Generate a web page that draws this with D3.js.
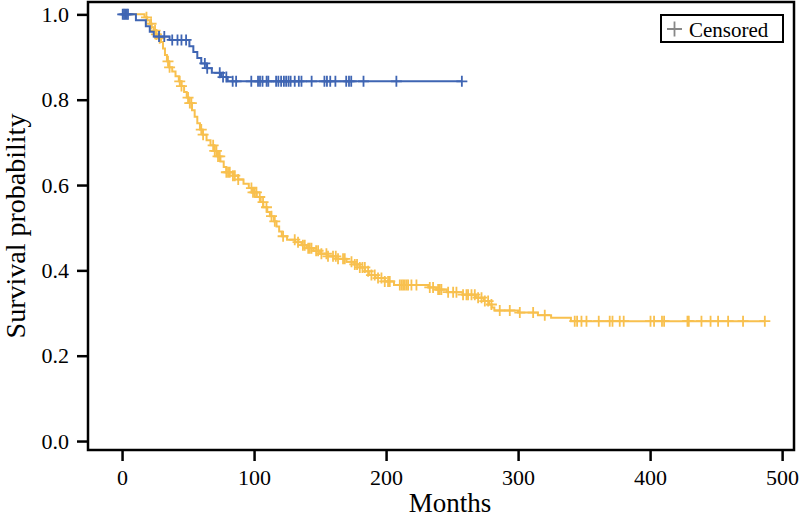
<!DOCTYPE html>
<html><head><meta charset="utf-8">
<script src="https://cdn.jsdelivr.net/npm/d3@7"></script>
<style>body{margin:0;background:#fff}svg{display:block}text{font-family:"Liberation Serif","Times New Roman",serif}</style>
</head><body><svg id="c" width="800" height="518"></svg>
<script>
// ---- data ----
const xTicks = [0, 100, 200, 300, 400, 500];
const yTicks = [0.0, 0.2, 0.4, 0.6, 0.8, 1.0];
const xLabel = "Months";
const yLabel = "Survival probability";
const legendLabel = "Censored";

const blueStepTimes = [0, 10.5, 18, 21, 24, 36, 51, 54, 57, 60, 64, 68, 75, 80];
const blueStepSurv  = [1.0, 0.986, 0.972, 0.959, 0.948, 0.94, 0.925, 0.912, 0.898, 0.885, 0.874, 0.863, 0.853, 0.843];
const blueEnd = 257.4;
const blueCensor = [0.5, 1.5, 2.5, 3.5, 4.5, 28, 32, 38, 42, 45, 48.5, 62.7, 64.5, 74, 76.5, 79,
  83.8, 86.4, 97.9, 103, 104.5, 106.4, 109.5, 110.8, 116.7, 118.4, 120.5, 122.6, 124.3, 126.1, 127.7,
  130.8, 133.9, 135.9, 143.6, 153.3, 155.2, 157.7, 161.6, 169.8, 171.9, 173.6, 182.9, 207.8, 257.4];

const yellowStepTimes = [0, 17, 19, 21, 22.5, 24, 26, 28, 29.5, 31, 32.5, 34, 35.5, 38, 40.5, 43, 45, 47, 49, 50.5,
  53, 55, 57, 59, 61, 64, 67, 70, 72.5, 74.5, 77, 79, 84, 88, 92, 96, 99, 102, 105, 107, 110, 112, 115, 117, 119, 121,
  125, 131, 136, 140, 145, 150, 156, 162, 170, 176, 180, 184, 187, 192, 199, 206, 232, 238, 246, 258, 268, 274, 278,
  280, 282, 300, 315, 325, 340];
const yellowStepSurv = [1.0, 0.993, 0.986, 0.978, 0.97, 0.962, 0.953, 0.944, 0.935, 0.92, 0.905, 0.89, 0.876, 0.866,
  0.855, 0.843, 0.832, 0.818, 0.805, 0.792, 0.775, 0.76, 0.745, 0.73, 0.718, 0.705, 0.693, 0.68, 0.667, 0.655, 0.642,
  0.63, 0.622, 0.613, 0.603, 0.593, 0.583, 0.572, 0.56, 0.548, 0.537, 0.527, 0.515, 0.503, 0.491, 0.48, 0.472, 0.466,
  0.459, 0.452, 0.446, 0.439, 0.433, 0.427, 0.42, 0.414, 0.407, 0.398, 0.389, 0.382, 0.374, 0.366, 0.36, 0.355, 0.349,
  0.343, 0.336, 0.328, 0.32, 0.313, 0.306, 0.301, 0.295, 0.289, 0.281];
const yellowEnd = 486.9;
const yellowCensor = [18.5, 22, 25, 26, 28.5, 34.8, 36, 43.7, 45, 50, 51.3, 52.5, 60, 61.4, 69, 70.2, 71.5, 72.7, 74,
  79, 80.3, 81.6, 84, 85.4, 88, 98, 99.2, 100.5, 101.8, 104.3, 106.8, 109.4, 113.2, 115.7, 122, 130.8, 133.3, 137,
  138.4, 141, 142.2, 143.5, 147, 148.5, 151, 154.8, 156, 159.8, 161.9, 163.6, 167.4, 168.7, 173.8, 176.3, 178, 180.1,
  182.1, 183.9, 186.4, 188.9, 191.4, 193.9, 196.5, 199, 201.5, 202.8, 210.4, 211.7, 212.9, 214.2, 215.5, 216.7, 219.2,
  223, 233.1, 235.6, 239.4, 240.7, 241.9, 247, 250.8, 253.3, 258.3, 260.9, 262.1, 264.7, 267.2, 269.7, 272.3, 274.8,
  277.3, 279.8, 286.1, 293.7, 301.3, 311.4, 320.2, 342.9, 344.7, 348, 351.8, 361.1, 369.4, 371.5, 377, 380, 400.3,
  403, 409, 410.6, 428.3, 429.3, 438.9, 445.8, 451.5, 459.1, 470.4, 486.9];

const BLUE = "#3f65b3", YELLOW = "#f8c04e";
const FONT = '"Liberation Serif", "Times New Roman", serif';

// ---- chart ----
const svg = d3.select("#c");
const L = 88, R = 794, T = 2, B = 450;
const x = d3.scaleLinear().domain([-25.8, 509]).range([L, R]);
const y = d3.scaleLinear().domain([-0.021, 1.029]).range([B, T]);

function survAt(times, surv, t) {
  let v = surv[0];
  for (let i = 0; i < times.length; i++) { if (times[i] <= t) v = surv[i]; else break; }
  return v;
}
function drawCurve(times, surv, end, censor, color) {
  const pts = times.map((t, i) => [t, surv[i]]);
  pts.push([end, surv[surv.length - 1]]);
  const line = d3.line().x(d => x(d[0])).y(d => y(d[1])).curve(d3.curveStepAfter);
  svg.append("path").attr("d", line(pts)).attr("fill", "none").attr("stroke", color).attr("stroke-width", 2);
  const s = 5.5;
  svg.append("g").selectAll("path").data(censor).join("path")
    .attr("d", t => {
      const cx = x(t), cy = y(survAt(times, surv, t));
      return `M${cx - s},${cy}H${cx + s}M${cx},${cy - s}V${cy + s}`;
    })
    .attr("stroke", color).attr("stroke-width", 1.8).attr("fill", "none");
}
drawCurve(yellowStepTimes, yellowStepSurv, yellowEnd, yellowCensor, YELLOW);
drawCurve(blueStepTimes, blueStepSurv, blueEnd, blueCensor, BLUE);

// frame
svg.append("rect").attr("x", L).attr("y", T).attr("width", R - L).attr("height", B - T)
  .attr("fill", "none").attr("stroke", "#000").attr("stroke-width", 2.5);

// axes
const xa = svg.append("g").attr("transform", `translate(0,${B})`)
  .call(d3.axisBottom(x).tickValues(xTicks).tickSize(11).tickPadding(8).tickFormat(d3.format("d")));
const ya = svg.append("g").attr("transform", `translate(${L},0)`)
  .call(d3.axisLeft(y).tickValues(yTicks).tickSize(11).tickPadding(8).tickFormat(d3.format(".1f")));
[xa, ya].forEach(g => {
  g.attr("font-family", FONT).attr("font-size", 22);
  g.select(".domain").remove();
  g.selectAll(".tick line").attr("stroke", "#000").attr("stroke-width", 2.5);
  g.selectAll(".tick text").attr("fill", "#000").attr("font-family", FONT).attr("font-size", 22);
});

svg.append("text").attr("x", 450).attr("y", 512).attr("text-anchor", "middle")
  .attr("font-family", FONT).attr("font-size", 27).text(xLabel);
svg.append("text").attr("transform", "translate(25,226) rotate(-90)").attr("text-anchor", "middle")
  .attr("font-family", FONT).attr("font-size", 28).text(yLabel);

// legend
const lg = svg.append("g");
lg.append("rect").attr("x", 661).attr("y", 15).attr("width", 122).attr("height", 27)
  .attr("fill", "#fff").attr("stroke", "#000").attr("stroke-width", 2);
lg.append("path").attr("d", "M667,29H682M674.5,21.5V36.5").attr("stroke", "#888").attr("stroke-width", 1.8);
lg.append("text").attr("x", 689).attr("y", 37).attr("font-family", FONT).attr("font-size", 21).text(legendLabel);
</script></body></html>
